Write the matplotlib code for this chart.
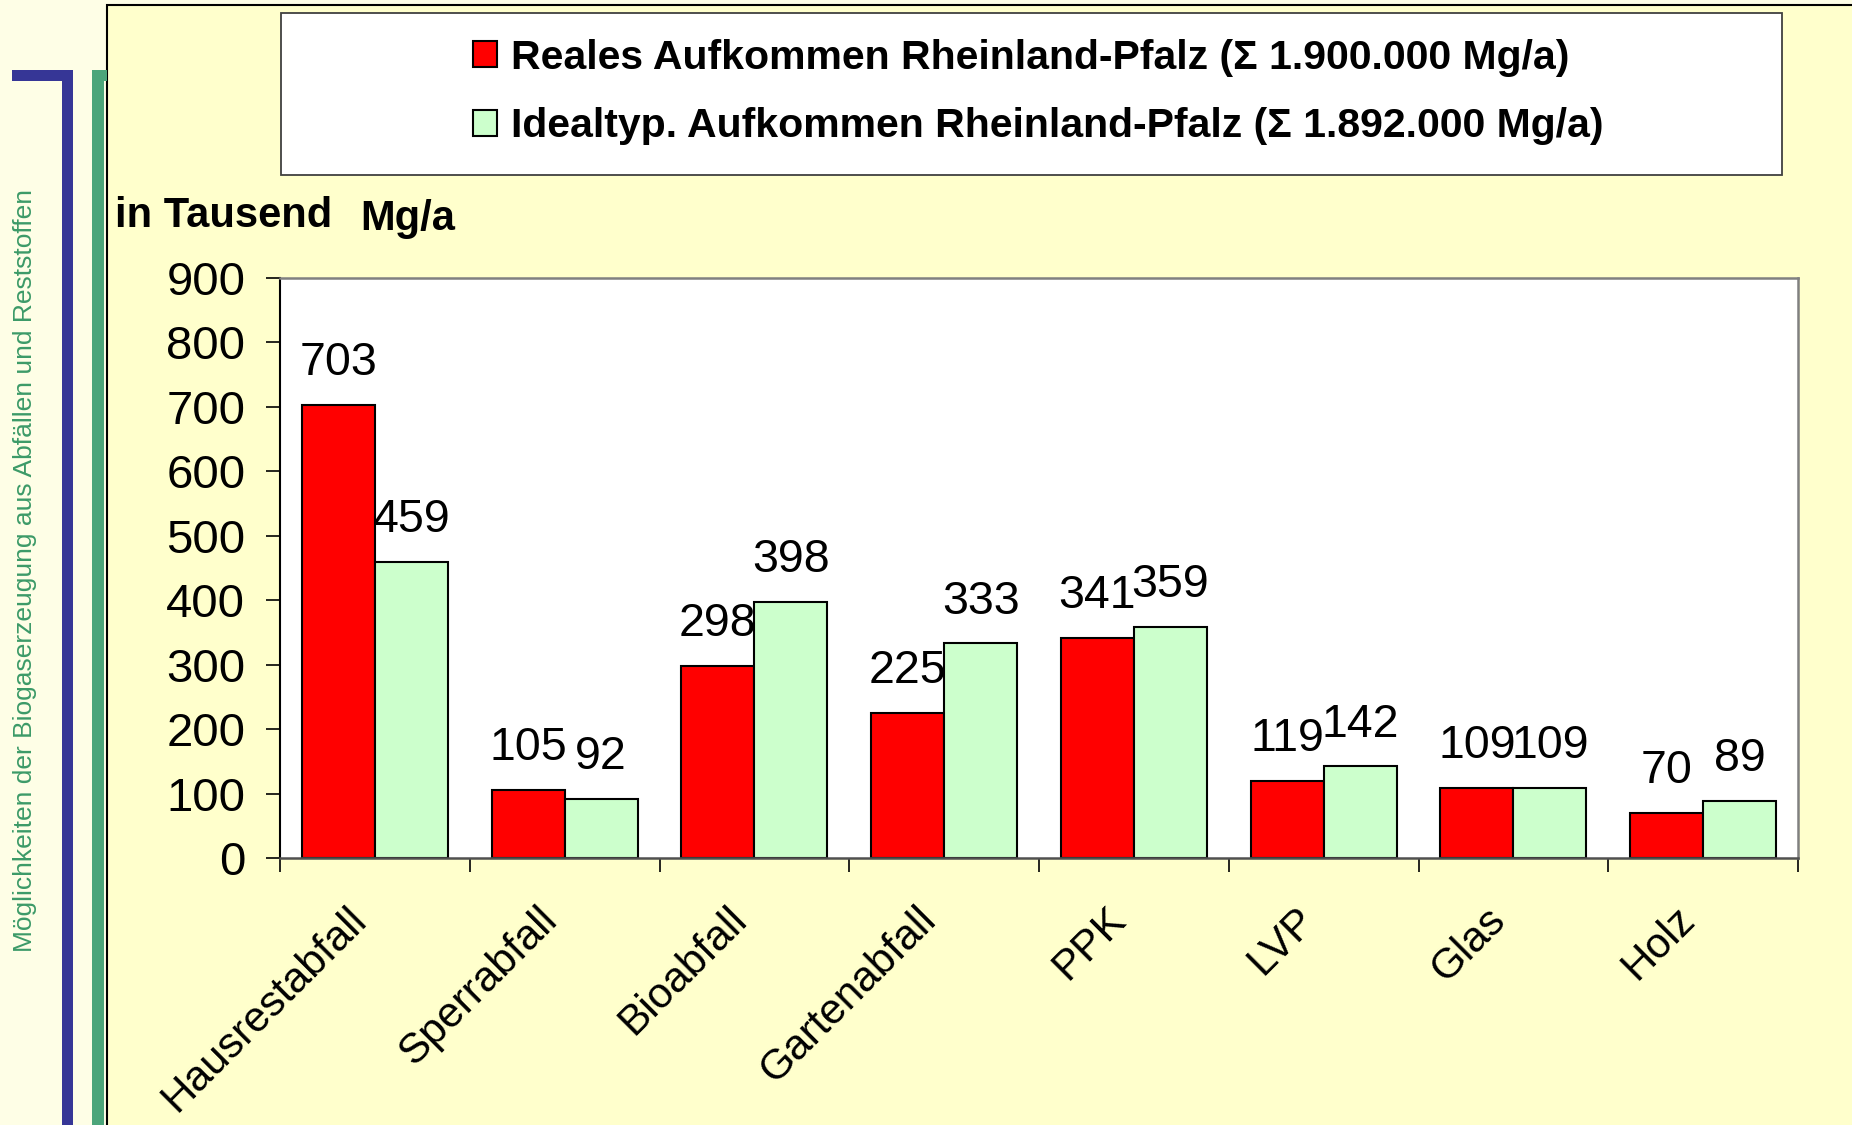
import matplotlib.pyplot as plt
from matplotlib.patches import Rectangle, Patch
from matplotlib.transforms import ScaledTranslation
import numpy as np

plt.rcParams['font.family'] = ['Liberation Sans', 'DejaVu Sans']

categories = ["Hausrestabfall", "Sperrabfall", "Bioabfall", "Gartenabfall",
              "PPK", "LVP", "Glas", "Holz"]
reales = [703, 105, 298, 225, 341, 119, 109, 70]
idealtyp = [459, 92, 398, 333, 359, 142, 109, 89]
label_reales = "Reales Aufkommen Rheinland-Pfalz (\u03a3 1.900.000 Mg/a)"
label_ideal = "Idealtyp. Aufkommen Rheinland-Pfalz (\u03a3 1.892.000 Mg/a)"
yticks = np.arange(0, 901, 100)

W, H = 1852, 1125
fig = plt.figure(figsize=(W / 100, H / 100), dpi=100)
fig.patch.set_facecolor("#FEFEE6")


def px(x0, y0, x1, y1):
    # pixel box (top-left origin) -> figure fraction rectangle args
    return (x0 / W, 1 - y1 / H), (x1 - x0) / W, (y1 - y0) / H


# slide frame
xy, w, h = px(107, 5, 1870, 1140)
fig.patches.append(Rectangle(xy, w, h, transform=fig.transFigure, facecolor="#FFFFCC",
                             edgecolor="black", linewidth=1.5, zorder=-2))

# decorative bracket lines on the left
blue = "#363696"
green = "#4CA57A"
for (x0, y0, x1, y1), col in [((12, 70, 73, 81), blue), ((62, 70, 73, 1130), blue),
                              ((92, 70, 104, 1130), green), ((92, 70, 107, 81), green)]:
    xy, w, h = px(x0, y0, x1, y1)
    fig.patches.append(Rectangle(xy, w, h, transform=fig.transFigure,
                                 facecolor=col, edgecolor="none", zorder=-1))

fig.text(25 / W, 1 - 570 / H, "M\u00f6glichkeiten der Biogaserzeugung aus Abf\u00e4llen und Reststoffen",
         rotation=90, ha="center", va="center", fontsize=19, color="#3C9A68")

# legend box
xy, w, h = px(281, 13, 1782, 175)
fig.patches.append(Rectangle(xy, w, h, transform=fig.transFigure, facecolor="white",
                             edgecolor="#404040", linewidth=1.3, zorder=-1))

ax = fig.add_axes([280 / W, 1 - 858 / H, (1798 - 280) / W, (858 - 278) / H])
ax.set_zorder(5)
ax.set_facecolor("white")

x = np.arange(len(categories))
bw = 0.385
b1 = ax.bar(x - bw / 2, reales, bw, color="#FF0000", edgecolor="black", linewidth=1.5)
b2 = ax.bar(x + bw / 2, idealtyp, bw, color="#CCFFCC", edgecolor="black", linewidth=1.5)

for bars, vals in [(b1, reales), (b2, idealtyp)]:
    for rect, v in zip(bars, vals):
        ax.annotate(str(v), (rect.get_x() + rect.get_width() / 2, v),
                    xytext=(0, 21.5), textcoords="offset points",
                    ha="center", va="baseline", fontsize=33.5)

ax.set_xlim(-0.5, len(categories) - 0.5)
ax.set_ylim(0, 900)
ax.set_yticks(yticks)
ax.set_yticklabels([str(t) for t in yticks], fontsize=34)
ax.tick_params(axis="y", length=10, width=1.2, pad=15, direction="out")

ax.set_xticks(x)
ax.set_xticklabels(categories, fontsize=30.5, rotation=45, ha="right",
                   rotation_mode="anchor", va="center")
ax.tick_params(axis="x", which="major", length=0, pad=40)
shift = ScaledTranslation(-14 / 100, 0, fig.dpi_scale_trans)
for lbl in ax.get_xticklabels():
    lbl.set_transform(lbl.get_transform() + shift)
ax.set_xticks(np.arange(-0.5, len(categories)), minor=True)
ax.tick_params(axis="x", which="minor", length=10, width=1.2, direction="out")

ax.spines["left"].set_color("black")
ax.spines["left"].set_linewidth(1.5)
for s in ["top", "right", "bottom"]:
    ax.spines[s].set_color("#808080")
    ax.spines[s].set_linewidth(1.8)
ax.spines["bottom"].set_color("#505050")

fig.text(115 / W, 1 - 227 / H, "in Tausend", fontsize=30, fontweight="bold", va="baseline")
fig.text(360 / W, 1 - 230 / H, "Mg/a", fontsize=30, fontweight="bold", va="baseline")

handles = [Patch(facecolor="#FF0000", edgecolor="black", linewidth=1.5),
           Patch(facecolor="#CCFFCC", edgecolor="black", linewidth=1.5)]
fig.legend(handles, [label_reales, label_ideal], loc="center",
           bbox_to_anchor=(1038 / W, 1 - 92 / H), frameon=False,
           prop={"size": 29.5, "weight": "bold"}, handlelength=0.6, handleheight=0.6,
           handletextpad=0.33, labelspacing=0.75)

fig.savefig("out.png", dpi=100, facecolor=fig.get_facecolor())
